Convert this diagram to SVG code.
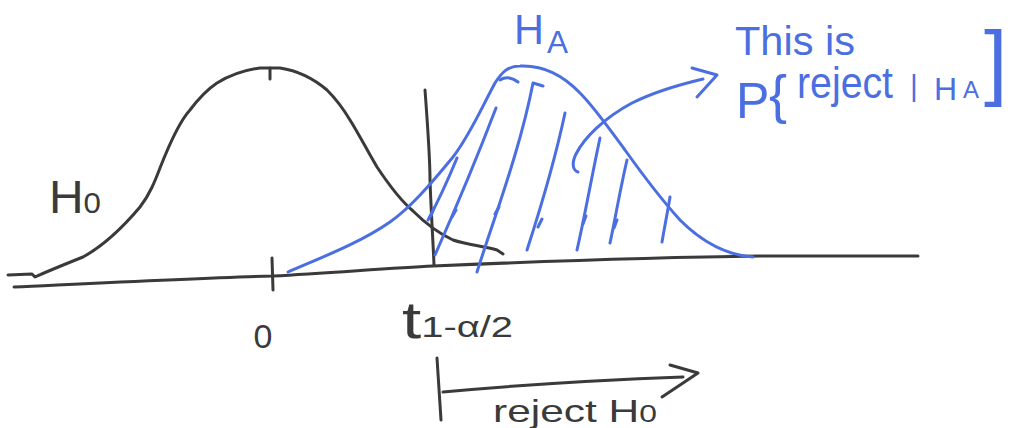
<svg xmlns="http://www.w3.org/2000/svg" width="1021" height="428" viewBox="0 0 1021 428">
<style>
.k{fill:none;stroke:#3a3a3a;stroke-width:3;stroke-linecap:round;stroke-linejoin:round}
.b{fill:none;stroke:#4b6fe0;stroke-width:3;stroke-linecap:round;stroke-linejoin:round}
.tk{fill:#3a3a3a;font-family:"Liberation Sans",Arial,sans-serif}
.tb{fill:#4b6fe0;font-family:"Liberation Sans",Arial,sans-serif}
</style>
<rect width="1021" height="428" fill="#ffffff"/>
<g id="axis">
<path class="k" d="M14,287 C100,283 200,278 273,276 C330,273 390,268 433,266 C550,261 680,257 760,256 L918,256"/>
<path class="k" d="M272,258 L273,290"/>
<text class="tk" x="263" y="348" font-size="34" text-anchor="middle">0</text>
</g>
<g id="h0-curve">
<path class="k" d="M8,275 L32,274 L35,277 C48,271 63,265 83,257 C103,246 124,226 140,207 C150,194 155,181 160,168 C169,145 179,122 190,110 C199,98 208,89 217,83 C230,75 245,70 260,68 L280,68 C300,71 314,79 327,90 C338,101 344,110 350,120 C360,136 368,152 377,167 C389,185 400,200 413,211 C426,224 440,234 453,240 C468,245 484,246 497,250 L503,254"/>
<path class="k" d="M270,68 L270,79"/>
<text class="tk" x="49" y="213" font-size="46" textLength="52" lengthAdjust="spacingAndGlyphs">H<tspan font-size="30">0</tspan></text>
</g>
<g id="critical-line">
<path class="k" d="M425,90 C428,130 430,165 430,180 C431,210 433,240 434,265"/>
<text class="tk" x="402" y="338" font-size="52" textLength="111" lengthAdjust="spacingAndGlyphs">t<tspan font-size="30" dy="-1">1-α/2</tspan></text>
</g>
<g id="ha-curve">
<path class="b" d="M288,272 C320,258 360,243 390,222 C410,208 430,185 453,157 C470,135 483,105 495,83 C502,72 508,66 520,66 C540,65 560,72 580,93 C595,108 610,130 625,150 C645,178 660,198 680,220 C700,240 725,255 753,257"/>
<path class="b" d="M500,80 C506,76 513,78 518,82"/>
<text class="tb" x="514" y="44" font-size="42" textLength="54" lengthAdjust="spacingAndGlyphs">H<tspan font-size="32" dx="3" dy="9">A</tspan></text>
</g>
<g id="hatching">
<path class="b" d="M457,158 C450,175 440,198 428,220"/>
<path class="b" d="M496,108 C480,150 455,210 435,255"/>
<path class="b" d="M543,86 L533,83 C520,150 495,215 477,272"/>
<path class="b" d="M565,113 C555,160 540,210 527,250"/>
<path class="b" d="M600,138 C592,175 585,215 577,250"/>
<path class="b" d="M627,160 C620,190 615,220 610,243"/>
<path class="b" d="M670,197 C667,215 664,230 662,242"/>
<path class="b" d="M431,216 L434,208 M452,217 L456,210 M495,214 L499,207 M538,227 L542,219 M583,224 L586,216 M614,228 L617,220"/>
</g>
<g id="annotation">
<text class="tb" x="735" y="55" font-size="40" textLength="120" lengthAdjust="spacingAndGlyphs">This is</text>
<text class="tb" x="736" y="118" font-size="50">P</text>
<text class="tb" x="769" y="113" font-size="54">{</text>
<text class="tb" x="797" y="98" font-size="44" textLength="96" lengthAdjust="spacingAndGlyphs">reject</text>
<text class="tb" x="910" y="96" font-size="30">|</text>
<text class="tb" x="934" y="100" font-size="32">H</text>
<text class="tb" x="963" y="98" font-size="24">A</text>
<text class="tb" x="984" y="90" font-size="84">]</text>
</g>
<g id="connectors">
<path class="b" d="M578,172 C572,170 572,162 576,154 C584,138 604,118 632,103 C656,91 682,84 703,79"/>
<path class="b" d="M692,68 L717,75 L697,97"/>
</g>
<g id="reject-region">
<path class="k" d="M437,358 L441,420"/>
<path class="k" d="M443,392 C520,385 600,380 683,377"/>
<path class="k" d="M670,365 L698,373 L662,397"/>
<text class="tk" x="493" y="422" font-size="32" textLength="164" lengthAdjust="spacingAndGlyphs">reject H<tspan font-size="24">0</tspan></text>
</g>
</svg>
